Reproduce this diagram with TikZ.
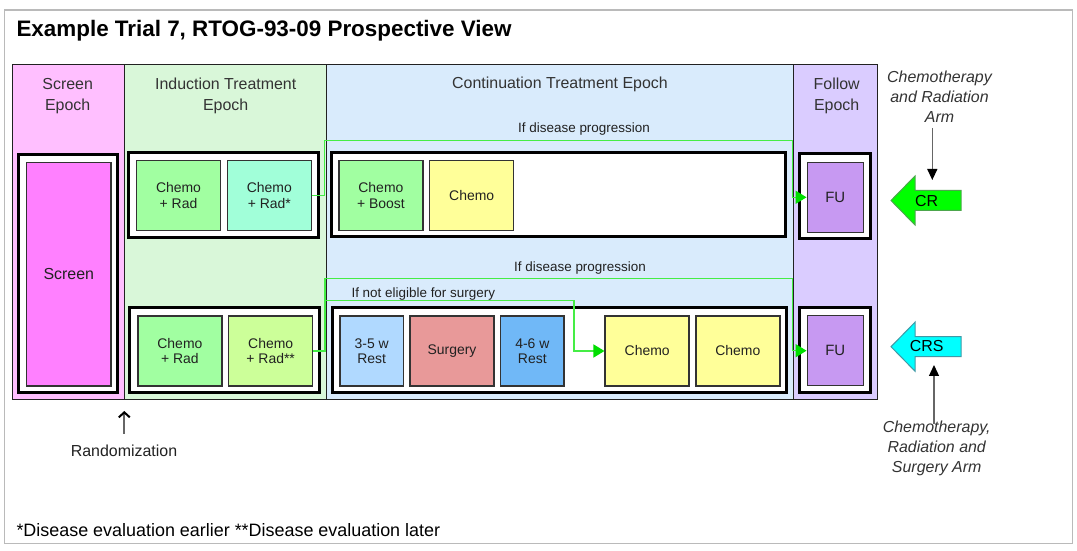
\documentclass[tikz,border=0pt]{standalone}
\usepackage{fontspec}
\setmainfont{Liberation Sans}
\usetikzlibrary{arrows.meta}
\definecolor{grey13}{rgb}{0.13,0.13,0.13}
\definecolor{grey20}{rgb}{0.2,0.2,0.2}
\definecolor{grey40}{rgb}{0.4,0.4,0.4}
\definecolor{grey73}{rgb}{0.73,0.73,0.73}
\definecolor{scrcol}{rgb}{1.0,0.75,1.0}
\definecolor{scrbox}{rgb}{1.0,0.5,1.0}
\definecolor{indcol}{rgb}{0.85,0.97,0.85}
\definecolor{concol}{rgb}{0.85,0.92,0.99}
\definecolor{folcol}{rgb}{0.855,0.8,1.0}
\definecolor{chemorad}{rgb}{0.63,1.0,0.63}
\definecolor{chemoradA}{rgb}{0.63,1.0,0.85}
\definecolor{chemoradB}{rgb}{0.8,1.0,0.6}
\definecolor{chemoyel}{rgb}{1.0,1.0,0.6}
\definecolor{restA}{rgb}{0.69,0.85,1.0}
\definecolor{surgred}{rgb}{0.91,0.6,0.6}
\definecolor{restB}{rgb}{0.44,0.72,0.97}
\definecolor{fupurple}{rgb}{0.78,0.6,0.95}
\definecolor{progline}{rgb}{0.27,0.93,0.27}
\definecolor{progtip}{rgb}{0.0,0.87,0.0}
\definecolor{crfill}{rgb}{0.0,1.0,0.0}
\definecolor{crline}{rgb}{0.3,0.65,0.3}
\definecolor{crsfill}{rgb}{0.0,1.0,1.0}
\definecolor{crsline}{rgb}{0.25,0.6,0.65}

\begin{document}
\begin{tikzpicture}[line join=miter,
    epochcol/.style={draw=grey13,line width=1bp},
    grp/.style={draw=black,line width=3bp,fill=white,inner sep=0pt},
    box/.style={draw=grey20,line width=1.5bp,inner sep=0pt,minimum width=84bp,minimum height=70bp,
      align=center,text=grey13,font=\fontsize{14}{15.5}\selectfont},
    restbox/.style={box,minimum width=63.3bp},
    fubox/.style={box,minimum width=56bp,fill=fupurple,font=\fontsize{15}{17}\selectfont},
    epochlbl/.style={align=center,text=grey20,font=\fontsize{16}{21}\selectfont},
    armlbl/.style={align=center,text=grey20,font=\itshape\fontsize{16}{20}\selectfont},
    branchlbl/.style={text=grey13,font=\fontsize{13.5}{16}\selectfont},
    progress/.style={draw=progline,line width=1.5bp,-{Triangle[length=11bp,width=13bp,color=progtip]}},
    armarrow/.style={draw=grey40,line width=1.3bp,-{Triangle[length=11bp,width=10bp,color=black]}},
    blockarrow/.style={line width=1bp}]
      %%
      \useasboundingbox (0bp,0bp) rectangle (1077bp,551bp);
      \fill [white] (0bp,0bp) rectangle (1077bp,551bp);
      \draw [grey73,line width=1.5bp] (4.5bp,7.5bp) rectangle (1072.5bp,541bp);
      \node (title) at (13bp,514.5bp) [anchor=base west,font=\bfseries\fontsize{22.5}{27}\selectfont] {Example Trial 7, RTOG-93-09 Prospective View};
      %% epochs
      \filldraw [epochcol,fill=scrcol] (12.5bp,151bp) rectangle (124.3bp,486.3bp);
      \filldraw [epochcol,fill=indcol] (124.3bp,151bp) rectangle (326bp,486.3bp);
      \filldraw [epochcol,fill=concol] (326bp,151bp) rectangle (793.3bp,486.3bp);
      \filldraw [epochcol,fill=folcol] (793.3bp,151bp) rectangle (877.7bp,486.3bp);
      \node (lblscr) at (67.7bp,454.7bp) [epochlbl] {Screen\\Epoch};
      \node (lblind) at (225.7bp,454.7bp) [epochlbl] {Induction Treatment\\Epoch};
      \node (lblcon) at (560bp,467bp) [epochlbl] {Continuation Treatment Epoch};
      \node (lblfol) at (836.7bp,454.7bp) [epochlbl] {Follow\\Epoch};
      %% groups
      \node (gscr) at (67.8bp,277.5bp) [grp,minimum width=99bp,minimum height=238.4bp] {};
      \node (gind1) at (223.5bp,356bp) [grp,minimum width=190bp,minimum height=85bp] {};
      \node (gind2) at (224.5bp,200.75bp) [grp,minimum width=190bp,minimum height=84.5bp] {};
      \node (gcon1) at (558.25bp,356.25bp) [grp,minimum width=454.5bp,minimum height=84.5bp] {};
      \node (gcon2) at (559.25bp,200.75bp) [grp,minimum width=454.5bp,minimum height=84.5bp] {};
      \node (gfu1) at (834.5bp,354.5bp) [grp,minimum width=71bp,minimum height=85bp] {};
      \node (gfu2) at (834.5bp,201bp) [grp,minimum width=71bp,minimum height=84.6bp] {};
      %% steps
      \node (scr) at (68.8bp,276.8bp) [box,fill=scrbox,minimum width=84.3bp,minimum height=223.7bp,font=\fontsize{16}{18}\selectfont] {Screen};
      \node (cr1) at (178.5bp,355.5bp) [box,fill=chemorad] {Chemo\\+ Rad};
      \node (cr2) at (269.3bp,355.5bp) [box,fill=chemoradA] {Chemo\\+ Rad*};
      \node (cb) at (380.9bp,355.5bp) [box,fill=chemorad] {Chemo\\+ Boost};
      \node (ch1) at (471.7bp,355.5bp) [box,fill=chemoyel] {Chemo};
      \node (fu1) at (835.3bp,353.7bp) [fubox] {FU};
      \node (cr3) at (179.9bp,200bp) [box,fill=chemorad] {Chemo\\+ Rad};
      \node (cr4) at (270.7bp,200bp) [box,fill=chemoradB] {Chemo\\+ Rad**};
      \node (rest1) at (371.7bp,200bp) [restbox,fill=restA] {3-5 w\\Rest};
      \node (surg) at (452bp,200bp) [box,fill=surgred] {Surgery};
      \node (rest2) at (532.3bp,200bp) [restbox,fill=restB] {4-6 w\\Rest};
      \node (ch2) at (647.2bp,200bp) [box,fill=chemoyel] {Chemo};
      \node (ch3) at (737.8bp,200bp) [box,fill=chemoyel] {Chemo};
      \node (fu2) at (835.3bp,200.3bp) [fubox] {FU};
      %% branches
      \node (prog1) at (584bp,421.7bp) [branchlbl] {If disease progression};
      \node (prog2) at (580bp,282.5bp) [branchlbl] {If disease progression};
      \node (noelig) at (348bp,257bp) [branchlbl,anchor=west] {If not eligible for surgery};
      \draw [progress] (cr2.east) -| (324.5bp,410.3bp) -| ([xshift=-14bp]fu1.west) -- (fu1.west);
      \draw [progress] (cr4.east) -| (325bp,272.7bp) -| ([xshift=-14bp]fu2.west) -- (fu2.west);
      \draw [progress] (cr4.east) -| (325bp,250.3bp) -| ([xshift=-30.7bp]ch2.west) -- (ch2.west);
      %% arms
      \filldraw [blockarrow,fill=crfill,draw=crline] (891bp,350.5bp) -- (915bp,375bp) -- (915bp,360.5bp) -- (961bp,360.5bp) -- (961bp,340.5bp) -- (915bp,340.5bp) -- (915bp,326bp) -- cycle;
      \filldraw [blockarrow,fill=crsfill,draw=crsline] (891bp,204.3bp) -- (915bp,228.8bp) -- (915bp,214.3bp) -- (961bp,214.3bp) -- (961bp,194.3bp) -- (915bp,194.3bp) -- (915bp,179.8bp) -- cycle;
      \node (cr) at (926.7bp,350.3bp) [font=\fontsize{16}{18}\selectfont] {CR};
      \node (crs) at (926.7bp,205bp) [font=\fontsize{16}{18}\selectfont] {CRS};
      \node (armcr) at (939.5bp,454.4bp) [armlbl] {Chemotherapy\\and Radiation\\Arm};
      \node (armcrs) at (936.7bp,102.8bp) [armlbl] {Chemotherapy,\\Radiation and\\Surgery Arm};
      \coordinate (crtop) at (932.3bp,371bp);
      \coordinate (crsbot) at (934bp,186bp);
      \draw [armarrow,shorten <=2bp] (armcr.south -| crtop) -- (crtop);
      \draw [armarrow,shorten <=-7bp] (armcrs.north -| crsbot) -- (crsbot);
      %% randomization
      \node (rand) at (124bp,94.3bp) [anchor=base,text=grey13,font=\fontsize{16}{18}\selectfont] {Randomization};
      \coordinate (randtip) at (124.3bp,140bp);
      \draw [draw=grey40,line width=1.8bp,shorten <=8bp,-{Straight Barb[length=5bp,width=11bp,line width=2bp,color=black]}] (rand.north -| randtip) -- (randtip);
      \node (note) at (13bp,15bp) [anchor=base west,font=\fontsize{18}{21}\selectfont] {*Disease evaluation earlier **Disease evaluation later};
    \end{tikzpicture}
\end{document}
